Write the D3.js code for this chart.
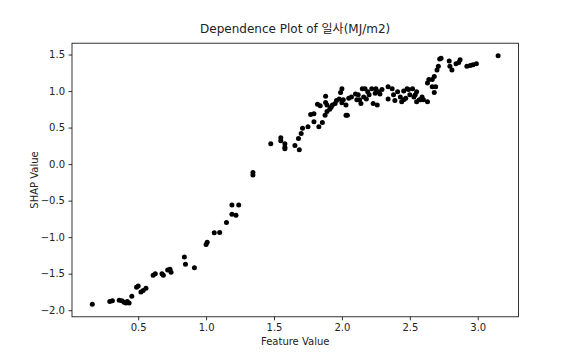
<!DOCTYPE html>
<html>
<head>
<meta charset="utf-8">
<script src="https://cdn.jsdelivr.net/npm/d3@7"></script>
<style>
  body { margin: 0; background: #fff; }
  text { font-family: "DejaVu Sans", "Noto Sans CJK KR", sans-serif; fill: #222; }
</style>
</head>
<body>
<div id="chart"></div>
<script>
// feature values (x) and SHAP values (y)
var featureValue = [
  0.162, 0.291, 0.31, 0.36, 0.38, 0.396, 0.41, 0.433, 0.42, 0.453,
  0.488, 0.50, 0.52, 0.537, 0.557, 0.61, 0.626, 0.675, 0.685, 0.717,
  0.734, 0.742, 0.84, 0.848, 0.914, 1.0, 1.008, 1.06, 1.10, 1.15,
  1.19, 1.24, 1.19, 1.22, 1.345, 1.345, 1.476, 1.55, 1.55, 1.58,
  1.58, 1.58, 1.654, 1.686, 1.68, 1.70, 1.71, 1.75, 1.794, 1.856,
  1.77, 1.794, 1.82, 1.84, 1.88, 1.88, 1.89, 1.876, 1.89, 1.91,
  1.92, 1.93, 1.95, 1.96, 1.98, 1.99, 2.0, 2.0, 2.01, 2.03,
  2.04, 2.05, 2.07, 2.10, 2.11, 2.12, 2.13, 2.14, 2.15, 2.16,
  2.17, 2.18, 2.19, 2.20, 2.22, 2.23, 2.245, 2.25, 2.26, 2.27,
  2.28, 2.295, 2.34, 2.34, 2.37, 2.38, 2.39, 2.41, 2.43, 2.44,
  2.455, 2.47, 2.49, 2.50, 2.52, 2.53, 2.55, 2.57, 2.455, 2.48,
  2.54, 2.55, 2.59, 2.60, 2.58, 2.63, 2.63, 2.64, 2.665, 2.68,
  2.665, 2.69, 2.68, 2.70, 2.71, 2.72, 2.73, 2.79, 2.795, 2.81,
  2.84, 2.86, 2.87, 2.92, 2.945, 2.965, 2.99, 3.15, 1.83, 2.03
];
var shapValue = [
  -1.92, -1.88, -1.87, -1.865, -1.87, -1.89, -1.90, -1.90, -1.88, -1.81,
  -1.685, -1.67, -1.75, -1.73, -1.70, -1.52, -1.50, -1.50, -1.52, -1.45,
  -1.44, -1.48, -1.27, -1.37, -1.42, -1.10, -1.07, -0.94, -0.935, -0.80,
  -0.56, -0.56, -0.685, -0.70, -0.115, -0.15, 0.28, 0.36, 0.32, 0.28,
  0.23, 0.21, 0.255, 0.195, 0.35, 0.42, 0.49, 0.51, 0.58, 0.57,
  0.68, 0.69, 0.82, 0.80, 0.93, 0.845, 0.81, 0.67, 0.72, 0.75,
  0.78, 0.81, 0.83, 0.87, 0.89, 0.98, 1.03, 0.84, 0.88, 0.81,
  0.67, 0.90, 0.92, 0.96, 0.88, 0.95, 0.88, 0.83, 1.03, 0.92,
  1.03, 0.89, 0.99, 0.95, 1.03, 0.83, 0.97, 1.03, 0.81, 0.99,
  0.96, 1.02, 1.06, 0.89, 1.03, 0.95, 0.87, 0.99, 0.92, 0.855,
  1.0, 0.90, 1.02, 0.95, 1.03, 0.92, 0.99, 0.88, 0.88, 1.03,
  0.95, 0.855, 0.92, 0.88, 0.88, 0.855, 1.11, 1.16, 1.16, 1.20,
  1.06, 1.06, 0.98, 1.29, 1.34, 1.44, 1.45, 1.41, 1.34, 1.29,
  1.375, 1.39, 1.43, 1.34, 1.35, 1.36, 1.375, 1.485, 0.51, 0.67
];
var xTicks = [0.5, 1.0, 1.5, 2.0, 2.5, 3.0];
var yTicks = [-2.0, -1.5, -1.0, -0.5, 0.0, 0.5, 1.0, 1.5];
var titleText = "Dependence Plot of 일사(MJ/m2)";
var xLabel = "Feature Value";
var yLabel = "SHAP Value";

var W = 576, H = 360;
var margin = { top: 43.2, right: 57.6, bottom: 43.2, left: 72 },
    width = W - margin.left - margin.right,
    height = H - margin.top - margin.bottom;

var svg = d3.select("#chart").append("svg")
    .attr("width", W)
    .attr("height", H);

var g = svg.append("g")
    .attr("transform", "translate(" + margin.left + "," + margin.top + ")");

// matplotlib-like 5% margins
function padded(ext) {
    var p = (ext[1] - ext[0]) * 0.05;
    return [ext[0] - p, ext[1] + p];
}

var x = d3.scaleLinear()
    .domain(padded(d3.extent(featureValue)))
    .range([0, width]);
var y = d3.scaleLinear()
    .domain(padded(d3.extent(shapValue)))
    .range([height, 0]);

var fmt = function (d) { return d3.format(".1f")(d).replace("-", "\u2212"); };

var xAxis = g.append("g")
    .attr("transform", "translate(0," + height + ")")
    .call(d3.axisBottom(x).tickValues(xTicks).tickFormat(fmt).tickSize(3.5).tickPadding(3.5));
var yAxis = g.append("g")
    .call(d3.axisLeft(y).tickValues(yTicks).tickFormat(fmt).tickSize(3.5).tickPadding(3.5));

[xAxis, yAxis].forEach(function (a) {
    a.select(".domain").remove();
    a.selectAll(".tick line").attr("stroke", "#000").attr("stroke-width", 0.8);
    a.selectAll(".tick text").attr("font-size", 10).attr("fill", "#222")
        .style("font-family", "DejaVu Sans, sans-serif");
});

// points
g.selectAll("circle")
    .data(featureValue)
    .enter().append("circle")
    .attr("cx", function (d) { return x(d); })
    .attr("cy", function (d, i) { return y(shapValue[i]); })
    .attr("r", 2.5)
    .attr("fill", "#000");

// frame
g.append("rect")
    .attr("width", width)
    .attr("height", height)
    .attr("fill", "none")
    .attr("stroke", "#000")
    .attr("stroke-width", 0.8);

svg.append("text")
    .attr("x", margin.left + width / 2)
    .attr("y", margin.top - 10)
    .attr("text-anchor", "middle")
    .attr("font-size", 12)
    .text(titleText);

svg.append("text")
    .attr("x", margin.left + width / 2)
    .attr("y", H - 15)
    .attr("text-anchor", "middle")
    .attr("font-size", 10)
    .text(xLabel);

svg.append("text")
    .attr("transform", "translate(38," + (margin.top + height / 2) + ") rotate(-90)")
    .attr("text-anchor", "middle")
    .attr("font-size", 10)
    .text(yLabel);
</script>
</body>
</html>
